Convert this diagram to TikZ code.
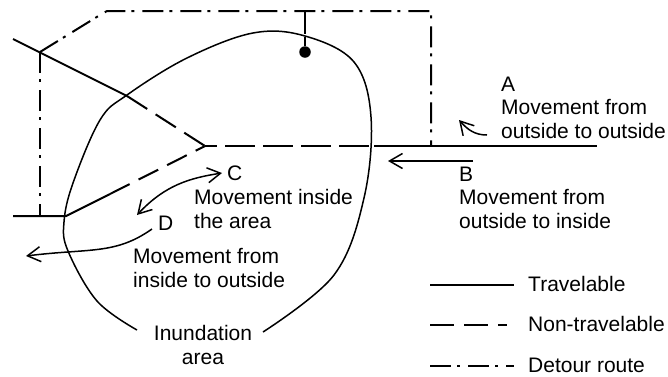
\documentclass[tikz,border=0pt]{standalone}
\usepackage{fontspec}
\setmainfont{Liberation Sans}
\usetikzlibrary{arrows.meta}
\tikzset{
    travel/.style={line width=2pt},
    nontravel/.style={line width=2pt,dash pattern=on 24pt off 10pt},
    detour/.style={line width=2pt,dash pattern=on 21pt off 6pt on 3pt off 8pt},
    area/.style={line width=1.5pt},
    move/.style={line width=1.5pt,-{Straight Barb[length=13pt,width=15pt]}},
    lbl/.style={inner sep=0pt,anchor=base west,align=left,font=\fontsize{21}{23.5}\selectfont},
}

\begin{document}
\begin{tikzpicture}[x=1pt,y=-1pt]
    \useasboundingbox (0,0) rectangle (668,376);

    % road network
    \coordinate (NW) at (13,39);
    \coordinate (NX) at (40,52);
    \coordinate (NE) at (127,96);
    \coordinate (J) at (205,146);
    \coordinate (Ja) at (217,146);
    \coordinate (Eb) at (374,146);
    \coordinate (Ec) at (431,146);
    \coordinate (Ed) at (597,146);
    \coordinate (SW) at (13,216);
    \coordinate (SX) at (40,216);
    \coordinate (SA) at (66,216);
    \coordinate (SE) at (110,194);

    \draw[travel] (NW)--(NE);
    \draw[nontravel] (NE)--(J);
    \draw[travel] (J)--(Ja);
    \draw[nontravel,dash pattern=on 30pt off 8pt] (Ja)++(8,0)--(Eb);
    \draw[travel] (Eb)--(Ed);
    \draw[travel] (SW)--(SA)--(SE);
    \draw[nontravel,dash pattern=on 22pt off 10pt] (SE)--(J);

    % detour
    \coordinate (Ta) at (100,15);
    \coordinate (Tb) at (107,11);
    \coordinate (Tc) at (431,11);
    \coordinate (Td) at (305,11);
    \node[circle,fill=black,inner sep=0pt,minimum size=11.5pt] (dest) at (305,52) {};

    \draw[detour] (NX)--(Ta)--(Tb)--(Tc)--(Ec);
    \draw[detour] (NX)--(SX);
    \draw[line width=2pt,dash pattern=on 23pt off 3pt] (Td)--(dest);

    % inundation area
    \draw[area] plot[smooth,tension=0.6] coordinates {
        (137,330) (97,301) (68,251) (64,222) (73,183) (100,120)
        (127,95) (187,58) (253,33) (305,36) (354,62) (371,117)
        (364,198) (334,275) (263,332)};

    % movements
    \coordinate (Aa) at (487,135);
    \coordinate (Ab) at (459,120);
    \coordinate (Ba) at (473,161);
    \coordinate (Bb) at (388,161);
    \coordinate (Ca) at (222,173);
    \coordinate (Cb) at (137,215);
    \coordinate (Da) at (152,229);
    \coordinate (Db) at (26,256);

    \draw[move] (Aa) .. controls (475,135) and (468,130) .. (Ab);
    \draw[move] (Ba)--(Bb);
    \draw[move,{Straight Barb[length=13pt,width=15pt]}-{Straight Barb[length=13pt,width=15pt]}]
        (Cb) .. controls (165,185) and (190,178) .. (Ca);
    \draw[move] (Da) .. controls (115,255) and (90,248) .. (Db);

    % labels
    \node[lbl] (lblA) at (501,138) {A\\Movement from\\outside to outside};
    \node[lbl] (lblB) at (459,228) {B\\Movement from\\outside to inside};
    \node[lbl] (lblC) at (227,180) {C};
    \node[lbl] (lblCm) at (194,228) {Movement inside\\the area};
    \node[lbl] (lblD) at (158,230) {D};
    \node[lbl] (lblDm) at (133,287) {Movement from\\inside to outside};
    \node[lbl,align=center,anchor=base] (lblArea) at (203,364) {Inundation\\area};

    % legend
    \foreach \i/\y/\s/\xe/\t in {1/285/travel/514/Travelable,2/325/nontravel/507/Non-travelable,3/366/detour/514/Detour route}{
        \coordinate (La\i) at (430,\y);
        \coordinate (Lb\i) at (\xe,\y);
        \draw[\s] (La\i)--(Lb\i);
        \node[lbl] (Lt\i) at (528,\y+6) {\t};
    }
\end{tikzpicture}
\end{document}
